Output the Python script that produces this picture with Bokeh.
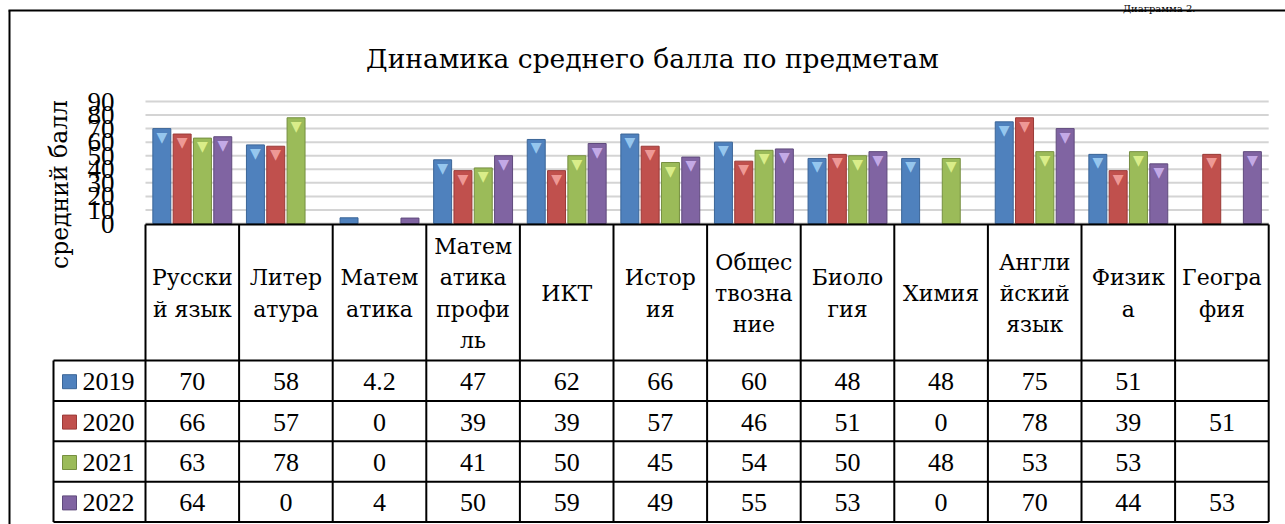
from bokeh.plotting import figure
from bokeh.models import Range1d, LinearAxis, FixedTicker, ColumnDataSource
from bokeh.core.properties import value
from bokeh.embed import file_html
from bokeh.resources import INLINE

# ---------------- data ----------------
title_text = "Динамика среднего балла по предметам"
caption_text = "Диаграмма 2."
y_label = "средний балл"
categories = [
    "Русски\nй язык", "Литер\nатура", "Матем\nатика", "Матем\nатика\nпрофи\nль",
    "ИКТ", "Истор\nия", "Общес\nтвозна\nние", "Биоло\nгия", "Химия",
    "Англи\nйский\nязык", "Физик\nа", "Геогра\nфия",
]
years = ["2019", "2020", "2021", "2022"]
s2019 = [70, 58, 4.2, 47, 62, 66, 60, 48, 48, 75, 51, None]
s2020 = [66, 57, 0, 39, 39, 57, 46, 51, 0, 78, 39, 51]
s2021 = [63, 78, 0, 41, 50, 45, 54, 50, 48, 53, 53, None]
s2022 = [64, 0, 4, 50, 59, 49, 55, 53, 0, 70, 44, 53]
series = [s2019, s2020, s2021, s2022]
y_ticks = [0, 10, 20, 30, 40, 50, 60, 70, 80, 90]

# ---------------- styles / layout ----------------
colors = ["#4f81bd", "#c0504d", "#9bbb59", "#8064a2"]
edge_colors = ["#3b6597", "#9a3a37", "#768f40", "#5f4a7c"]
bevel_colors = ["#9fd0f5", "#f5a3a0", "#e2f590", "#cdb3f0"]
FONT_NUM = "Liberation Serif"   # digits
FONT_CYR = "DejaVu Serif"       # Cyrillic text

W, H = 1285, 524
CAT_X0, CAT_W = 145.0, 93.6          # px of first category and its width
ZERO_Y, PX_PER_UNIT = 223.0, 122.0 / 90.0
HEAD_TOP, HEAD_BOT, ROW_H = 224.0, 360.0, 40.4
LEG_X0 = 53.0
n = len(categories)
CAT_X1 = CAT_X0 + CAT_W * n
TABLE_BOT = HEAD_BOT + ROW_H * len(years)

p = figure(width=W, height=H, x_range=Range1d(0, W), y_range=Range1d(H, 0),
           output_backend="svg", toolbar_location=None, min_border=0,
           x_axis_location=None, y_axis_location=None, outline_line_color=None)
p.grid.visible = False
p.background_fill_color = "white"
p.extra_x_ranges = {"cat": Range1d(-CAT_X0 / CAT_W, (W - CAT_X0) / CAT_W)}
p.extra_y_ranges = {"score": Range1d((ZERO_Y - H) / PX_PER_UNIT, ZERO_Y / PX_PER_UNIT)}

# caption and outer frame
p.text(x=[1195], y=[8], text=[caption_text], text_align="right", text_baseline="alphabetic",
       text_font=value(FONT_CYR), text_font_size="10px", text_color="black")
p.segment(x0=[8, 9], y0=[10, 10], x1=[W, 9], y1=[10, H], line_color="black", line_width=2)

# title
p.text(x=[652], y=[58], text=[title_text], text_align="center", text_baseline="alphabetic",
       text_font=value(FONT_CYR), text_font_size="26.5px", text_color="black")

# y axis label
p.text(x=[59], y=[184], text=[y_label], angle=1.5708, text_align="center",
       text_baseline="middle", text_font=value(FONT_CYR), text_font_size="23.5px",
       text_color="black")

# gridlines from tick values
p.segment(x0=[0] * len(y_ticks), x1=[n] * len(y_ticks), y0=y_ticks, y1=y_ticks,
          x_range_name="cat", y_range_name="score", line_color="#d4d4d4", line_width=2)

# y axis
ax = LinearAxis(y_range_name="score", fixed_location=CAT_X0,
                ticker=FixedTicker(ticks=y_ticks),
                axis_line_color=None, major_tick_line_color=None, minor_tick_line_color=None,
                major_label_text_font=FONT_NUM, major_label_text_font_size="27px",
                major_label_text_color="black", major_label_standoff=25)
p.add_layout(ax, "left")

# bars
pitch, bw = 0.217, 0.192
for k, s in enumerate(series):
    xs, tops = [], []
    for i, v in enumerate(s):
        if v is not None and v > 0:
            xs.append(i + 0.5 + (k - 1.5) * pitch)
            tops.append(v)
    src = ColumnDataSource(dict(x=xs, top=tops))
    p.vbar(x="x", top="top", bottom=0, width=bw, source=src, x_range_name="cat",
           y_range_name="score", fill_color=colors[k], line_color=edge_colors[k], line_width=1)
    bx = [x for x, t in zip(xs, tops) if t >= 8]
    bt = [t for t in tops if t >= 8]
    p.text(x=bx, y=bt, text=["▼"] * len(bx), x_range_name="cat", y_range_name="score",
           text_align="center", text_baseline="top", text_font=value("DejaVu Sans"),
           text_font_size="14px", text_color=bevel_colors[k], text_alpha=0.9)

# table lines
vx = [CAT_X0 + CAT_W * i for i in range(n + 1)]
p.segment(x0=vx, x1=vx, y0=[HEAD_TOP] * len(vx), y1=[TABLE_BOT] * len(vx),
          line_color="black", line_width=2)
p.segment(x0=[CAT_X0], x1=[CAT_X1], y0=[HEAD_TOP], y1=[HEAD_TOP], line_color="black", line_width=2)
hy = [HEAD_BOT + ROW_H * k for k in range(len(years) + 1)]
p.segment(x0=[LEG_X0] * len(hy), x1=[CAT_X1] * len(hy), y0=hy, y1=hy,
          line_color="black", line_width=2)
p.segment(x0=[LEG_X0], x1=[LEG_X0], y0=[HEAD_BOT], y1=[TABLE_BOT], line_color="black", line_width=2)

# header texts
cx = [CAT_X0 + CAT_W * (i + 0.5) for i in range(n)]
p.text(x=cx, y=[293] * n, text=categories, text_align="center", text_baseline="middle",
       text_font=value(FONT_CYR), text_font_size="22px", text_color="black",
       text_line_height=1.25)

# rows
for k, s in enumerate(series):
    ry = HEAD_BOT + ROW_H * (k + 0.5) + 1
    labels = ["" if v is None else f"{v:g}" for v in s]
    p.text(x=cx, y=[ry] * n, text=labels, text_align="center", text_baseline="middle",
           text_font=value(FONT_NUM), text_font_size="26px", text_color="black")
    p.scatter(x=[LEG_X0 + 16], y=[ry], marker="square", size=14, fill_color=colors[k],
              line_color=edge_colors[k])
    p.text(x=[LEG_X0 + 29], y=[ry], text=[years[k]], text_align="left", text_baseline="middle",
           text_font=value(FONT_NUM), text_font_size="26px", text_color="black")

open("out.html", "w").write(file_html(p, INLINE))
